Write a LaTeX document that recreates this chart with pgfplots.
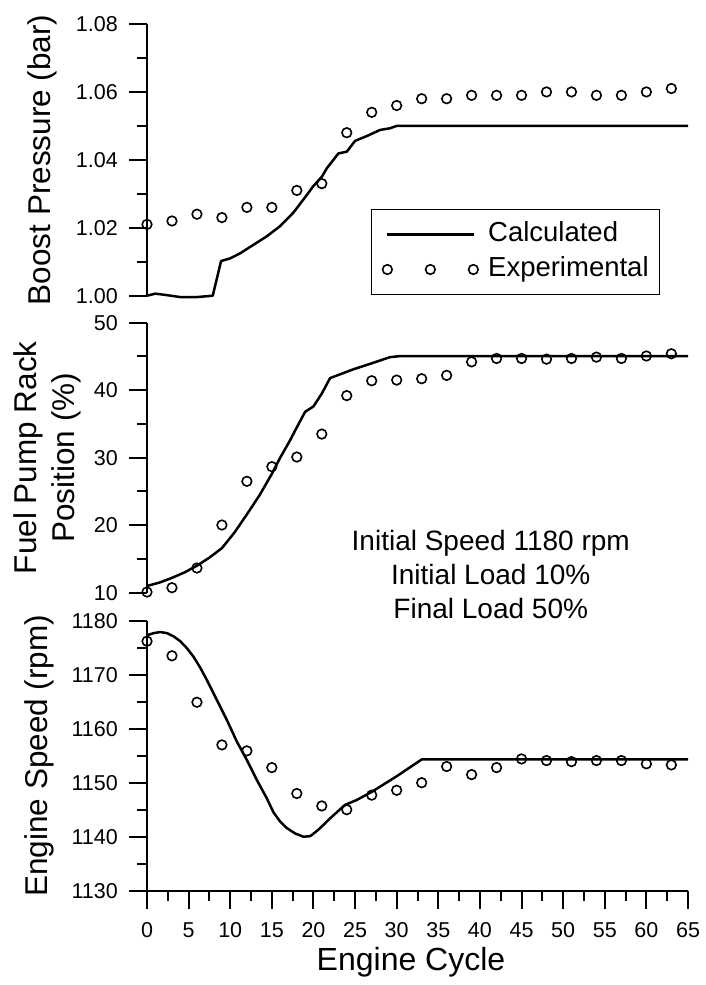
\documentclass[border=0pt]{standalone}
\usepackage{pgfplots}
\pgfplotsset{compat=1.18}
\usepackage{fontspec}
\setmainfont{Liberation Sans}

\tikzset{ylab/.style={at={(axis description cs:#1,0.5)}, rotate=90, font=\fontsize{31.5}{38}\selectfont}}
\pgfplotsset{
  myax/.style={
    scale only axis, width=541pt, xmin=0, xmax=65, clip=false,
    tick align=outside, major tick length=18pt, minor tick length=10pt,
    axis line style={line width=2.4pt},
    every tick/.style={black, line width=2pt},
    tick label style={font=\fontsize{21.5}{24}\selectfont, inner sep=0pt},
    yticklabel shift=11pt,
    xticklabel shift=14pt,
    /pgf/number format/assume math mode=true,
    /pgf/number format/1000 sep={},
    minor y tick num=1,
  },
  calc/.style={black, line width=2.5pt, line join=round, no marks},
  expt/.style={black, only marks, mark=o, mark size=4.8pt, mark options={line width=1.6pt}},
}

\begin{document}
\begin{tikzpicture}
\path[use as bounding box] (0pt,0pt) rectangle (705pt,-985pt);

% ---------- top panel ----------
\begin{axis}[myax, at={(147pt,-295.7pt)}, anchor=south west, height=271.7pt,
  ymin=1.00, ymax=1.08, ytick={1.00,1.02,1.04,1.06,1.08},
  yticklabel style={/pgf/number format/.cd, fixed, fixed zerofill, precision=2},
  axis y line*=left, axis x line=none,
  ylabel={Boost Pressure (bar)},
  every axis y label/.style={ylab=-0.1775, anchor=base},
  legend style={at={(axis cs:26.92,1.0002)}, anchor=south west, draw=black, line width=1pt,
    font=\fontsize{27.5}{30}\selectfont, inner xsep=11pt, inner ysep=12pt,
    row sep=9pt, column sep=10pt,
    nodes={inner sep=0pt, text height=20pt, text depth=6pt}},
  legend cell align=left]
\addplot[calc, legend image code/.code={\draw[black, line width=2.5pt] (0pt,0pt) -- (87pt,0pt);}] coordinates {
(0,1.0000) (1,1.0006) (2,1.0003) (4,0.9996) (6,0.9996) (7.9,1.0000) (8.9,1.0102)
(10,1.0110) (11.2,1.0125) (12.8,1.0150) (14.4,1.0175) (16,1.0205) (17.6,1.0245)
(19,1.0290) (20,1.0323) (21,1.0350) (21.6,1.0375) (23,1.0419) (24,1.0424)
(25,1.0456) (26.4,1.0470) (28,1.0488) (29.2,1.0493) (30,1.0500) (65,1.0500)};
\addlegendentry{Calculated}
\addplot[expt, legend image code/.code={\draw[black, only marks, mark=o, mark size=4.8pt, mark options={line width=1.6pt}] plot coordinates {(0pt,0pt) (43pt,0pt) (86pt,0pt)};}] coordinates {
(0,1.021) (3,1.022) (6,1.024) (9,1.023) (12,1.026) (15,1.026) (18,1.031) (21,1.033)
(24,1.048) (27,1.054) (30,1.056) (33,1.058) (36,1.058) (39,1.059) (42,1.059) (45,1.059)
(48,1.060) (51,1.060) (54,1.059) (57,1.059) (60,1.060) (63,1.061)};
\addlegendentry{Experimental}
\end{axis}

% ---------- middle panel ----------
\begin{axis}[myax, at={(147pt,-592.7pt)}, anchor=south west, height=270pt,
  ymin=10, ymax=50, ytick={10,20,30,40,50},
  axis y line*=left, axis x line=none,
  ylabel={Fuel Pump Rack\\Position (\%)},
  every axis y label/.style={ylab=-0.1834, anchor=center, align=center}]
\addplot[calc] coordinates {
(0,11.0) (1.5,11.5) (3,12.2) (4.5,13.0) (6,14.0) (7.5,15.2) (9,16.6) (10.5,18.9)
(12,21.6) (13.5,24.4) (15,27.6) (16,30.0) (17.2,32.6) (18,34.5) (19,36.8) (20,37.6)
(21,39.5) (22,41.8) (24.8,43.1) (26.8,43.9) (29.2,44.9) (30.4,45.05) (65,45.05)};
\addplot[expt] coordinates {
(0,10.1) (3,10.74) (6,13.66) (9,20.03) (12,26.5) (15,28.67) (18,30.1) (21,33.5)
(24,39.2) (27,41.4) (30,41.5) (33,41.7) (36,42.2) (39,44.2) (42,44.7) (45,44.7)
(48,44.6) (51,44.7) (54,44.9) (57,44.7) (60,45.07) (63,45.4)};
\node[align=center, anchor=north, inner sep=0pt, font=\fontsize{28}{34}\selectfont]
  at (axis cs:41.3,19.35) {Initial Speed 1180 rpm\\Initial Load 10\%\\Final Load 50\%};
\end{axis}

% ---------- bottom panel ----------
\begin{axis}[myax, at={(147pt,-890.7pt)}, anchor=south west, height=270pt,
  ymin=1130, ymax=1180, ytick={1130,1140,1150,1160,1170,1180},
  xtick={0,5,...,65}, minor x tick num=1,
  axis lines*=left,
  ylabel={Engine Speed (rpm)},
  every axis y label/.style={ylab=-0.183, anchor=base},
  xlabel={Engine Cycle},
  every axis x label/.style={at={(axis description cs:0.488,-0.2963)}, anchor=base, font=\fontsize{32}{38}\selectfont}]
\addplot[calc] coordinates {
(0,1177.3) (0.8,1177.7) (1.6,1177.9) (2.4,1177.7) (3.2,1177.1) (4,1176.2) (4.8,1174.9)
(5.6,1173.3) (6.4,1171.3) (7.2,1169.0) (8.4,1165.3) (9.6,1161.6) (10.8,1157.6)
(12,1154.2) (13.2,1150.5) (14.4,1147.1) (15.2,1144.5) (16,1142.8) (16.8,1141.6)
(17.8,1140.6) (18.8,1140.0) (19.6,1140.1) (20.2,1140.8) (20.8,1141.6) (22,1143.4)
(23,1144.8) (23.8,1145.9) (25.2,1146.8) (27,1148.3) (30,1151.2) (33,1154.3) (65,1154.3)};
\addplot[expt] coordinates {
(0,1176.2) (3,1173.5) (6,1164.9) (9,1157.0) (12,1155.9) (15,1152.8) (18,1148.0) (21,1145.7)
(24,1145.0) (27,1147.7) (30,1148.6) (33,1150.0) (36,1153.0) (39,1151.5) (42,1152.8) (45,1154.4)
(48,1154.1) (51,1153.9) (54,1154.1) (57,1154.1) (60,1153.5) (63,1153.3)};
\end{axis}
\end{tikzpicture}
\end{document}
